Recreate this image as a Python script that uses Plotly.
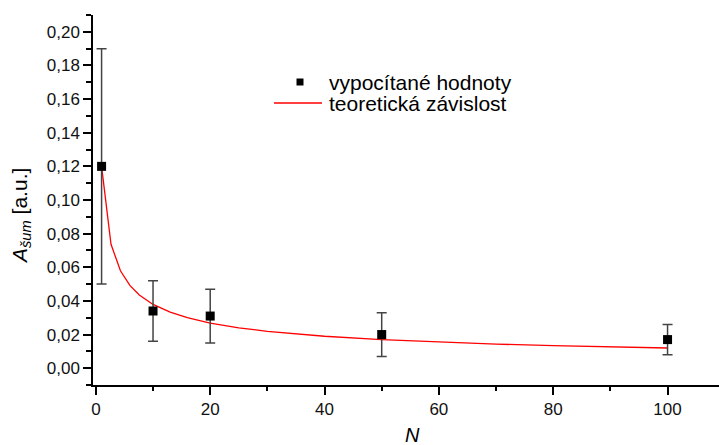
import plotly.graph_objects as go

# measured values
N_points = [1, 10, 20, 50, 100]
A_points = [0.120, 0.034, 0.031, 0.020, 0.017]
A_errors = [0.070, 0.018, 0.016, 0.013, 0.009]

# theoretical curve
N_theory = [1, 2.65, 4.3, 5.95, 7.6, 10, 13, 16, 20, 25, 30, 35, 40, 50, 60, 70, 80, 90, 100]
A_theory = [0.120, 0.0737, 0.0579, 0.0492, 0.0435, 0.0379, 0.0333, 0.0300, 0.0268, 0.0240,
            0.0219, 0.0203, 0.0190, 0.0170, 0.0155, 0.0143, 0.0134, 0.0126, 0.0120]

x_ticks = [0, 20, 40, 60, 80, 100]
y_ticks = [0.00, 0.02, 0.04, 0.06, 0.08, 0.10, 0.12, 0.14, 0.16, 0.18, 0.20]

label_points = "vypocítané hodnoty"
label_theory = "teoretická závislost"

FONT = "Liberation Sans, Arial, sans-serif"
W, H = 719, 445
ML, MR, MT, MB = 93, 0, 15, 60
PW, PH = W - ML - MR, H - MT - MB


def px(x):
    return (x - ML) / PW


def py(y):
    return (H - MB - y) / PH


fig = go.Figure()

fig.add_trace(go.Scatter(
    x=N_theory, y=A_theory, mode="lines",
    line=dict(color="#ff0000", width=1.3),
    name=label_theory, showlegend=False,
))

fig.add_trace(go.Scatter(
    x=N_points, y=A_points, mode="markers",
    marker=dict(symbol="square", size=9, color="black"),
    error_y=dict(type="data", array=A_errors, visible=True,
                 color="#444444", thickness=1.5, width=5),
    name=label_points, showlegend=False,
))

axis_common = dict(
    showline=True, linecolor="black", linewidth=1.5,
    ticks="outside", ticklen=8, tickwidth=1.5, tickcolor="black",
    showgrid=False, zeroline=False, mirror=False,
    tickfont=dict(family=FONT, size=17, color="#111111"),
)

fig.update_xaxes(
    range=[-0.5, 109], tickvals=x_ticks, ticktext=[str(v) for v in x_ticks],
    minor=dict(ticks="outside", dtick=10, tick0=0, ticklen=4, tickwidth=1.5, tickcolor="black"),
    **axis_common,
)
fig.update_yaxes(
    range=[-0.01, 0.21], tickvals=y_ticks, tickformat=".2f",
    minor=dict(ticks="outside", dtick=0.01, tick0=0, ticklen=5, tickwidth=1.5, tickcolor="black"),
    **axis_common,
)

# axis titles
fig.add_annotation(
    text="<i>A</i><sub><i>šum</i></sub> [a.u.]", textangle=-90,
    xref="paper", yref="paper", x=px(21), y=py(216), xanchor="center", yanchor="middle",
    showarrow=False, font=dict(family=FONT, size=21, color="black"),
)
fig.add_annotation(
    text="<i>N</i>",
    xref="paper", yref="paper", x=px(412), y=py(435), xanchor="center", yanchor="middle",
    showarrow=False, font=dict(family=FONT, size=20, color="black"),
)

# legend (drawn manually to match the compact spacing)
fig.add_shape(type="rect", xref="paper", yref="paper",
              x0=px(296.5), x1=px(303.5), y0=py(85.5), y1=py(78.5),
              fillcolor="black", line=dict(width=0))
fig.add_shape(type="line", xref="paper", yref="paper",
              x0=px(274), x1=px(322), y0=py(103), y1=py(103),
              line=dict(color="#ff0000", width=1.3))
fig.add_annotation(text=label_points, xref="paper", yref="paper",
                   x=px(327), y=py(82), xanchor="left", yanchor="middle",
                   showarrow=False, font=dict(family=FONT, size=21, color="black"))
fig.add_annotation(text=label_theory, xref="paper", yref="paper",
                   x=px(327), y=py(103.5), xanchor="left", yanchor="middle",
                   showarrow=False, font=dict(family=FONT, size=21, color="black"))

fig.update_layout(
    width=W, height=H,
    margin=dict(l=ML, r=MR, t=MT, b=MB),
    paper_bgcolor="white", plot_bgcolor="white",
    separators=", ",
    font=dict(family=FONT, size=17, color="black"),
    showlegend=False,
)

fig.write_html("out.html")
